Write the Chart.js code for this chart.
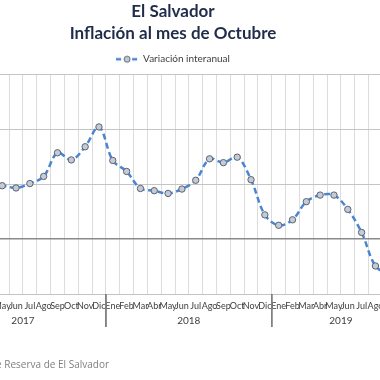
<!DOCTYPE html>
<html>
<head>
<meta charset="utf-8">
<script src="https://cdn.jsdelivr.net/npm/chart.js@4"></script>
<style>
  html, body { margin: 0; padding: 0; background: #fff; }
  body { width: 380px; height: 380px; overflow: hidden; position: relative; }
  #wrap { position: absolute; left: -100px; top: 0; width: 546px; height: 380px; }
  #fuente { position: absolute; right: 271px; top: 357px; white-space: nowrap;
            font: 10px "Open Sans", sans-serif; color: #7f7f7f; }
</style>
</head>
<body>
<div id="wrap"><canvas id="inflacion"></canvas></div>
<div id="fuente">Fuente: Banco Central de Reserva de El Salvador</div>
<script>
const months = ['Ene', 'Feb', 'Mar', 'Abr', 'May', 'Jun', 'Jul', 'Ago', 'Sep', 'Oct', 'Nov', 'Dic']
const years = ['2017', '2018', '2019']
const monthsPerYear = [12, 12, 10]

// variacion interanual (%)
const inflation2017 = [0.63, 0.75, 0.86, 0.93, 0.97, 0.93, 1.01, 1.14, 1.57, 1.44, 1.68, 2.04]
const inflation2018 = [1.43, 1.23, 0.92, 0.88, 0.83, 0.91, 1.07, 1.46, 1.39, 1.49, 1.08, 0.44]
const inflation2019 = [0.25, 0.35, 0.68, 0.80, 0.80, 0.54, 0.12, -0.49, -0.64, -0.75]

const labels = []
monthsPerYear.forEach(n => labels.push(...months.slice(0, n)))
const values = [...inflation2017, ...inflation2018, ...inflation2019]

const lineColor = '#4a86d0'

// legend marker: dashed line with a circle
function legendMarker() {
  const c = document.createElement('canvas')
  c.width = 22; c.height = 10
  const g = c.getContext('2d')
  g.strokeStyle = lineColor
  g.lineWidth = 2.5
  g.setLineDash([5, 3])
  g.beginPath(); g.moveTo(0, 5); g.lineTo(22, 5); g.stroke()
  g.setLineDash([])
  g.beginPath(); g.arc(11, 5, 3, 0, Math.PI * 2)
  g.fillStyle = '#c5cad3'; g.fill()
  g.lineWidth = 1; g.strokeStyle = '#56647a'; g.stroke()
  return c
}

// year labels and dividers under the month ticks
const yearAxis = {
  id: 'yearAxis',
  afterDraw(chart) {
    const x = chart.scales.x
    const ctx = chart.ctx
    const bottom = chart.chartArea.bottom
    const half = (x.getPixelForValue(1) - x.getPixelForValue(0)) / 2
    ctx.save()
    ctx.strokeStyle = '#808080'
    ctx.lineWidth = 1.5
    ctx.fillStyle = '#404040'
    ctx.font = '10px Lato'
    ctx.textAlign = 'center'
    ctx.textBaseline = 'middle'
    let start = 0
    years.forEach((yr, i) => {
      const end = start + monthsPerYear[i] - 1
      const left = x.getPixelForValue(start) - half
      const right = x.getPixelForValue(end) + half
      ctx.beginPath()
      ctx.moveTo(left, bottom); ctx.lineTo(left, bottom + 33)
      ctx.moveTo(right, bottom); ctx.lineTo(right, bottom + 33)
      ctx.stroke()
      ctx.fillText(yr, (left + right) / 2, bottom + 27)
      start = end + 1
    })
    ctx.restore()
  }
}

new Chart(
  document.getElementById('inflacion'),
  {
    type: 'line',
    data: {
      labels: labels,
      datasets: [
        {
          label: 'Variación interanual',
          data: values,
          borderColor: lineColor,
          borderWidth: 2.5,
          borderDash: [6, 3.5],
          tension: 0.35,
          pointRadius: 3.2,
          pointBackgroundColor: '#c5cad3',
          pointBorderColor: '#56647a',
          pointBorderWidth: 1,
          pointStyle: 'circle'
        }
      ]
    },
    options: {
      responsive: true,
      maintainAspectRatio: false,
      animation: false,
      layout: { padding: { left: 36, right: 36, top: 0, bottom: 0 } },
      scales: {
        x: {
          offset: true,
          grid: { offset: true, color: '#dcdcdc', drawTicks: false },
          border: { display: false },
          ticks: {
            autoSkip: false,
            maxRotation: 0,
            padding: 7,
            color: '#404040',
            font: { family: 'Lato', size: 9 }
          },
          afterFit(scale) { scale.height = 86 }
        },
        y: {
          min: -1,
          max: 3,
          ticks: { stepSize: 1, color: '#404040', font: { family: 'Lato', size: 9 } },
          grid: {
            drawTicks: false,
            color: ctx => ctx.tick && ctx.tick.value === 0 ? '#8a8a8a' : '#c4c4c4',
            lineWidth: ctx => ctx.tick && ctx.tick.value === 0 ? 1.5 : 1
          },
          border: { display: false },
          afterFit(scale) { scale.width = 4 }
        }
      },
      plugins: {
        title: {
          display: true,
          text: ['El Salvador', 'Inflación al mes de Octubre'],
          color: '#1f2d4a',
          font: { family: 'Lato', size: 17, weight: 'bold', lineHeight: 1.3 },
          padding: { top: 0, bottom: 2 }
        },
        legend: {
          labels: {
            usePointStyle: true,
            pointStyle: legendMarker(),
            pointStyleWidth: 22,
            padding: 8,
            color: '#404040',
            font: { family: 'Lato', size: 10 },
            generateLabels(chart) {
              const items = Chart.defaults.plugins.legend.labels.generateLabels(chart)
              items.forEach(it => { it.pointStyle = legendMarker(); it.lineDash = [] })
              return items
            }
          }
        },
        tooltip: { enabled: false }
      }
    },
    plugins: [yearAxis]
  }
);
</script>
</body>
</html>
